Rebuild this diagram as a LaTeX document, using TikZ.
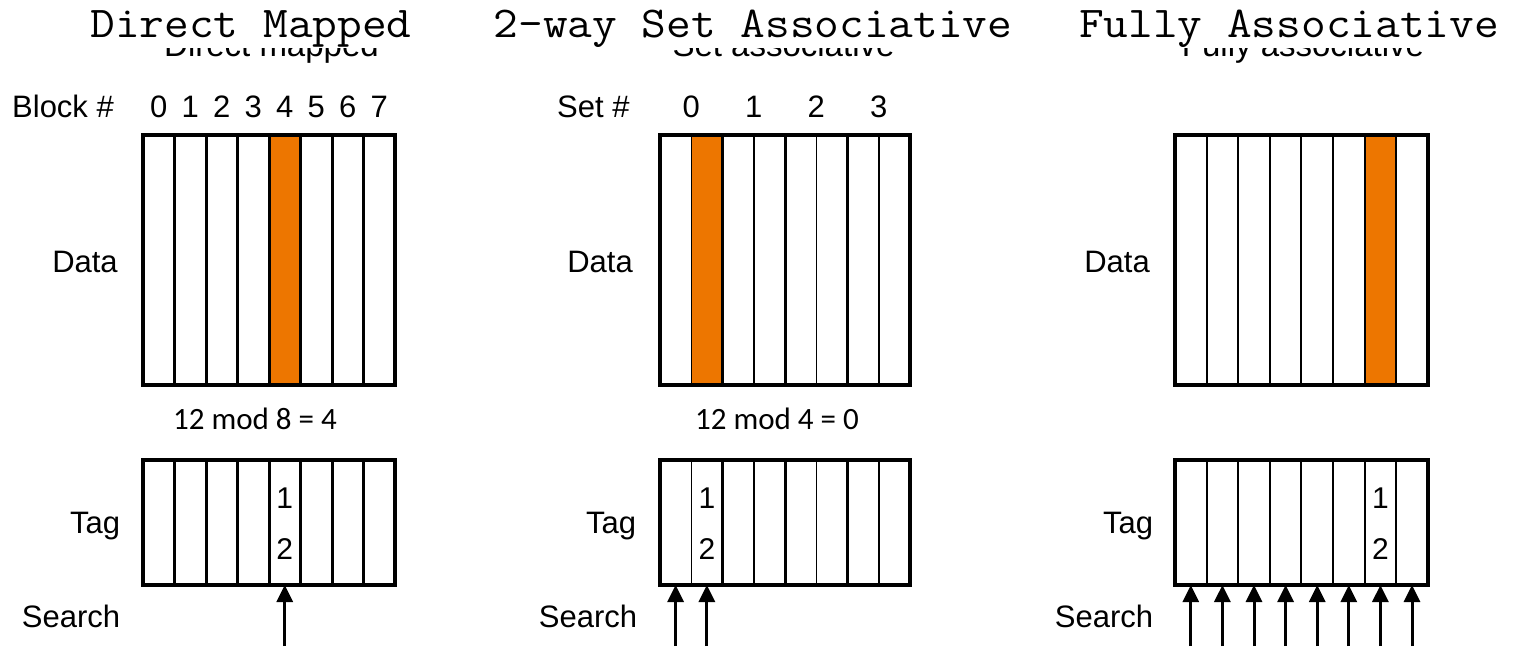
\documentclass[tikz,border=0pt]{standalone}
\usepackage{fontspec}
\setmainfont{Liberation Sans}
\newfontfamily\calibfont{Carlito}
\usetikzlibrary{arrows.meta}

\definecolor{hilite}{RGB}{237,118,0}

% a row of eight cache lines as named cells
\newcommand\cellrow[5]{% prefix, left x, column width, top y, height
  \foreach \i in {0,...,7}{
    \node[cell, minimum width=#3pt, minimum height=#5pt]
      (#1\i) at ({#2+(\i+0.5)*#3}, {#4+#5/2}) {};
  }
}
% widened typewriter heading
\newcommand\headtext[1]{\scalebox{1.09}[1]{#1}}

\begin{document}
\begin{tikzpicture}[x=1pt, y=-1pt,
  cell/.style={rectangle, draw=none, inner sep=0pt, outer sep=0pt},
  outline/.style={line width=4pt},
  septhick/.style={line width=3pt},
  sepmid/.style={line width=2pt},
  septhin/.style={line width=1.5pt},
  lbl/.style={font=\fontsize{31}{36}\selectfont, anchor=base, inner sep=0pt},
  digit/.style={font=\fontsize{30}{34}\selectfont, anchor=base, inner sep=0pt},
  calc/.style={font=\calibfont\fontsize{31}{36}\selectfont, anchor=base, inner sep=0pt},
  title/.style={font=\ttfamily\fontsize{44}{50}\selectfont, anchor=base, inner sep=0pt},
  subtitle/.style={font=\fontsize{33}{38}\selectfont, anchor=base, inner sep=0pt},
  search/.style={line width=3pt, -{Triangle[width=16pt, length=17pt]}}
]
\useasboundingbox (0,0) rectangle (1523,646);

% ---------- headings ----------
\begin{scope}
  \clip (0,48) rectangle (1523,80);
  \node[subtitle] (sub1) at (271.5,56) {Direct mapped};
  \node[subtitle] (sub2) at (783.5,56) {Set associative};
  \node[subtitle] (sub3) at (1303,56) {Fully associative};
\end{scope}
\node[title] (title1) at (251,37) {\headtext{Direct Mapped}};
\node[title] (title2) at (753,37) {\headtext{2-way Set Associative}};
\node[title] (title3) at (1289,37) {\headtext{Fully Associative}};

% ---------- direct mapped ----------
\cellrow{dmd}{143}{31.5}{135}{250}
\cellrow{dmt}{143}{31.5}{460}{125}
\fill[hilite] (dmd4.north west) rectangle (dmd4.south east);
\foreach \i in {0,...,6}{
  \draw[septhick] (dmd\i.north east) -- (dmd\i.south east);
  \draw[septhick] (dmt\i.north east) -- (dmt\i.south east);
}
\draw[outline] (dmd0.north west) rectangle (dmd7.south east);
\draw[outline] (dmt0.north west) rectangle (dmt7.south east);

\node[lbl, anchor=base west] (dmblock) at (12,117) {Block \#};
\foreach \i in {0,...,7}{
  \node[lbl] (dmnum\i) at ({143+(\i+0.5)*31.5},117) {\i};
}
\node[lbl] (dmdata) at (85,272) {Data};
\node[calc] (dmcalc) at (255,429) {12 mod 8 = 4};
\node[lbl] (dmtag) at (95,533) {Tag};
\node[digit] (dmtag1) at (dmt4.center |- 0,508) {1};
\node[digit] (dmtag2) at (dmt4.center |- 0,559) {2};
\node[lbl] (dmsearch) at (71,627) {Search};
\coordinate (dmsrc) at (dmt4.south |- 0,646);
\draw[search] (dmsrc) -- (dmt4.south);

% ---------- 2-way set associative ----------
\cellrow{sad}{660}{31.25}{135}{250}
\cellrow{sat}{660}{31.25}{460}{125}
\fill[hilite] (sad1.north west) rectangle (sad1.south east);
\foreach \i in {0,2,4,6}{
  \draw[septhin] (sad\i.north east) -- (sad\i.south east);
  \draw[septhin] (sat\i.north east) -- (sat\i.south east);
}
\foreach \i in {1,3,5}{
  \draw[septhick] (sad\i.north east) -- (sad\i.south east);
  \draw[septhick] (sat\i.north east) -- (sat\i.south east);
}
\draw[outline] (sad0.north west) rectangle (sad7.south east);
\draw[outline] (sat0.north west) rectangle (sat7.south east);

\node[lbl, anchor=base west] (saset) at (557,117) {Set \#};
\foreach \s in {0,...,3}{
  \node[lbl] (sanum\s) at ({660+(\s+0.5)*62.5},117) {\s};
}
\node[lbl] (sadata) at (600,272) {Data};
\node[calc] (sacalc) at (777,429) {12 mod 4 = 0};
\node[lbl] (satag) at (611,533) {Tag};
\node[digit] (satag1) at (sat1.center |- 0,508) {1};
\node[digit] (satag2) at (sat1.center |- 0,559) {2};
\node[lbl] (sasearch) at (588,627) {Search};
\foreach \i in {0,1}{
  \coordinate (sasrc\i) at (sat\i.south |- 0,646);
  \draw[search] (sasrc\i) -- (sat\i.south);
}

% ---------- fully associative ----------
\cellrow{fad}{1175}{31.6}{135}{250}
\cellrow{fat}{1175}{31.6}{460}{125}
\fill[hilite] (fad6.north west) rectangle (fad6.south east);
\foreach \i in {0,...,6}{
  \draw[sepmid] (fad\i.north east) -- (fad\i.south east);
  \draw[sepmid] (fat\i.north east) -- (fat\i.south east);
}
\draw[outline] (fad0.north west) rectangle (fad7.south east);
\draw[outline] (fat0.north west) rectangle (fat7.south east);

\node[lbl] (fadata) at (1117,272) {Data};
\node[lbl] (fatag) at (1128,533) {Tag};
\node[digit] (fatag1) at (fat6.center |- 0,508) {1};
\node[digit] (fatag2) at (fat6.center |- 0,559) {2};
\node[lbl] (fasearch) at (1104,627) {Search};
\foreach \i in {0,...,7}{
  \coordinate (fasrc\i) at (fat\i.south |- 0,646);
  \draw[search] (fasrc\i) -- (fat\i.south);
}
\end{tikzpicture}
\end{document}
